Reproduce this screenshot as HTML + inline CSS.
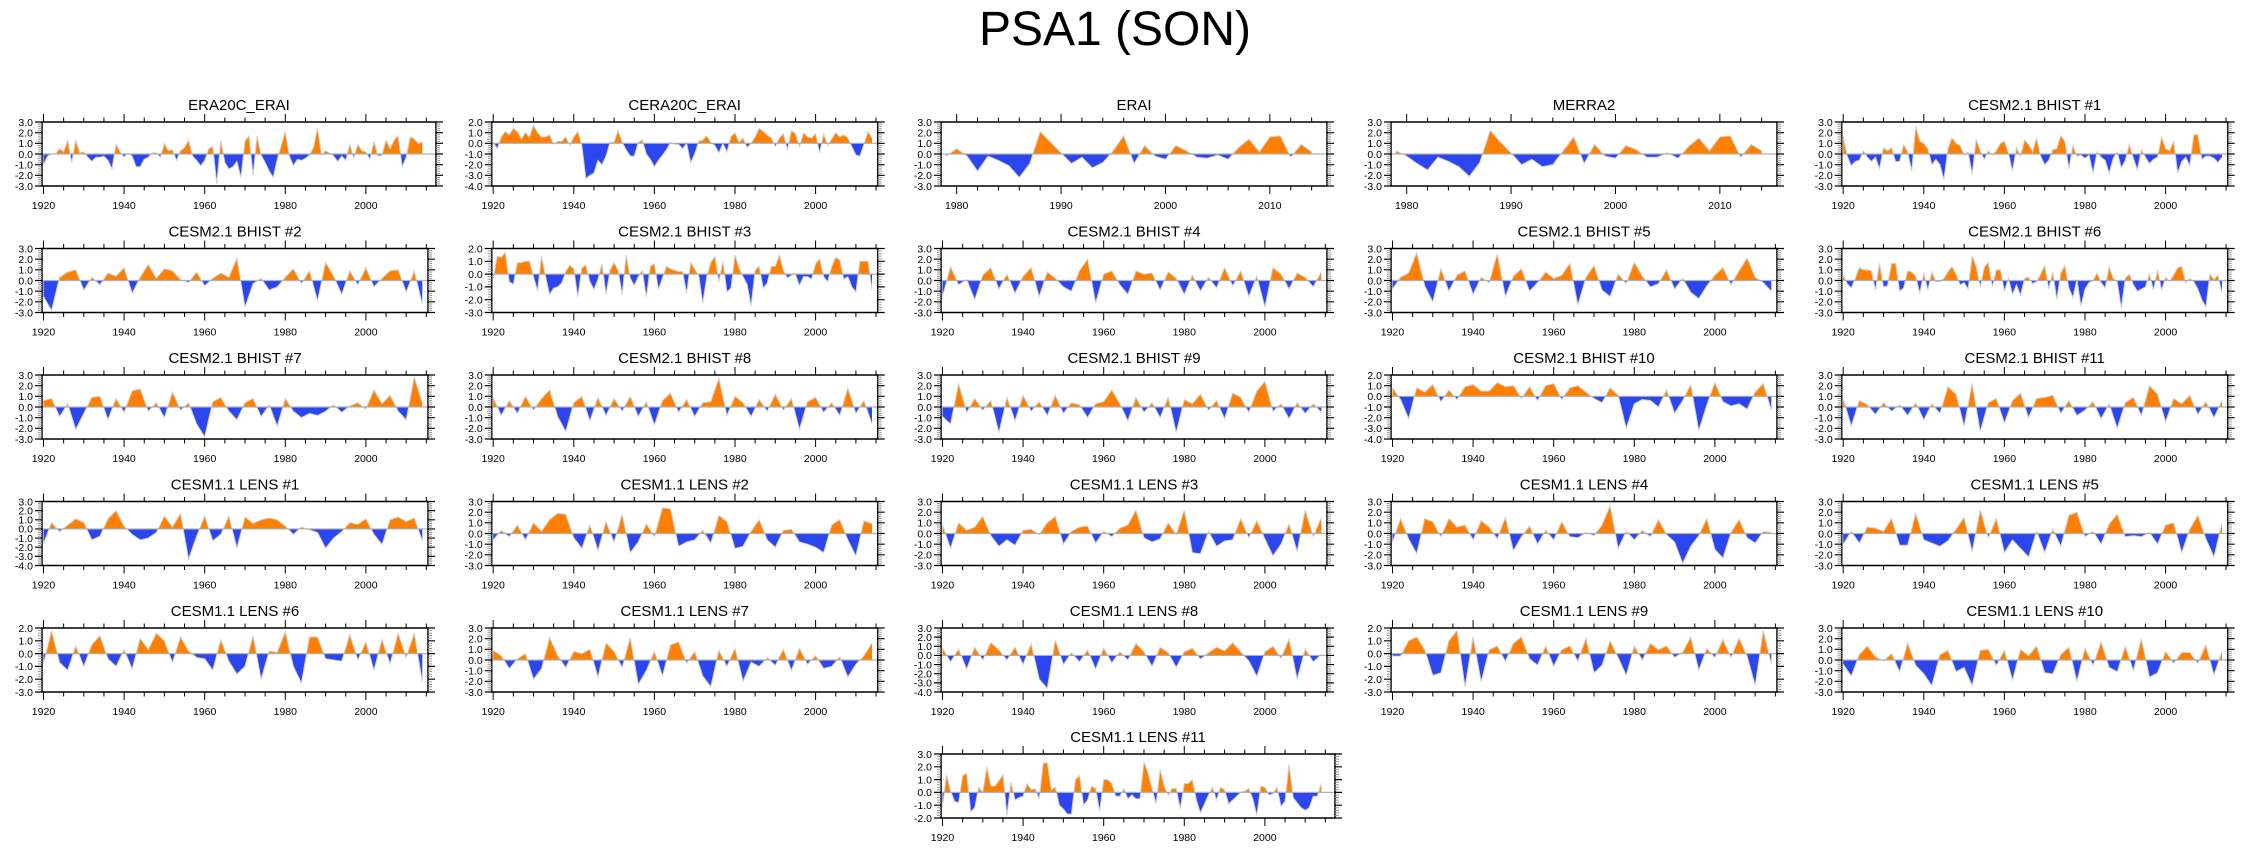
<!DOCTYPE html>
<html><head><meta charset="utf-8"><title>PSA1 (SON)</title>
<style>
html,body{margin:0;padding:0;background:#fff;}
svg{display:block;font-family:"Liberation Sans",Arial,sans-serif;}
</style></head>
<body>
<svg id="chart" width="2245" height="849" viewBox="0 0 2245 849" xmlns="http://www.w3.org/2000/svg">
<text x="1115" y="45" font-size="48" text-anchor="middle" fill="#000">PSA1 (SON)</text>
</svg>
<script>
// ---- data (PSA1 index, SON) ----
const era20c = [-1.0,-0.2,0,0,0.5,0.2,1.3,-0.8,1.3,0.1,0.2,-0.3,-0.7,-0.3,-0.3,-0.2,-0.6,-1.4,0.9,0.2,-0.3,0.1,-0.2,-1.2,-1.2,-0.5,-0.3,0.1,0.1,-0.3,1.0,0.3,0.4,-0.6,0.3,0.6,1.3,-0.2,-0.6,-1.1,-0.6,0.5,0.7,-2.8,1.3,-0.8,-1.4,-1.2,-0.7,-2.2,1.2,1.7,-2.0,1.7,-0.1,-0.8,-1.6,-2.2,-0.5,0.8,2.1,-0.2,-1.1,-0.5,-0.6,-0.4,-0.1,0.6,2.4,-0.1,0.3,0.1,-0.2,-0.7,-0.2,-0.6,0.9,-0.4,0.9,0.3,0.2,-0.5,1.2,-0.2,-0.1,1.3,0.5,1.3,1.7,-1.2,-0.3,1.6,1.4,1.0,1.1];
const cera20c = [0.1,-0.5,0.6,1.1,0.8,1.4,1.1,0.4,1.0,0.6,1.7,1.0,0.6,0.6,0.8,-0.1,0.2,0.2,0.6,-0.2,0.6,1.1,-0.2,-3.3,-3.0,-2.8,-1.6,-2.0,-1.2,0.1,0.1,1.2,0.1,-0.6,-1.2,-1.2,0.1,0.3,-1.0,-1.5,-2.2,-1.6,-1.1,-0.6,0.1,-0.1,-0.1,-0.5,0.0,-1.8,-1.0,0.2,0.3,0.7,0.1,-0.2,-0.9,0.0,-0.8,0.6,1.0,0.1,0.5,-0.4,0.0,0.6,1.4,1.1,0.8,0.5,-0.3,0.5,0.9,-0.6,1.2,0.9,-0.3,1.0,0.6,0.5,0.9,-0.9,0.9,-0.2,0.4,1.0,0.6,0.8,0.5,-0.3,-1.1,-1.2,-0.1,1.1,0.5];
const erai = [-0.2,0.5,-0.2,-1.6,-0.2,-0.6,-1.1,-2.2,-0.9,2.1,1.1,0.1,-0.9,-0.3,-1.3,-0.8,0.3,1.7,-0.9,0.8,-0.2,-0.5,0.8,0.3,-0.3,-0.4,-0.1,-0.5,0.6,1.4,0.2,1.6,1.7,-0.3,0.9,0.2];
const merra2 = [0.3,-0.2,-0.9,-1.5,-0.3,-0.7,-1.2,-2.1,-0.8,2.2,1.1,0.1,-1.0,-0.5,-1.2,-1.0,0.3,1.6,-0.9,0.9,-0.2,-0.4,0.8,0.4,-0.3,-0.3,0.1,-0.4,0.7,1.5,0.3,1.6,1.7,-0.3,0.9,0.3];
const bhist1 = [1.7,-0.2,-1.1,-0.7,-0.6,0.3,-0.3,-0.7,-0.3,-1.4,0.6,0.3,0.6,-0.7,-0.7,0.9,0.2,-1.6,2.6,1.2,1.0,0.5,-1.0,-0.5,-1.0,-2.4,0.5,1.5,1.0,0.8,-0.1,0.2,-1.9,1.4,0.3,-0.5,0.3,-0.1,0.3,1.0,1.2,0.1,-1.6,0.6,-0.2,1.3,0.9,0.2,1.5,-0.2,-1.0,-0.6,0.4,0.5,1.7,1.2,-1.4,0.8,-0.2,-0.1,-0.4,-0.1,-1.8,0.2,-0.3,-0.6,-1.8,-0.4,0.2,-1.3,-0.6,0.9,-0.4,-1.5,0.4,-0.3,-0.9,-0.5,-0.3,1.6,0.5,0.3,1.2,-1.8,-0.7,-0.3,-1.1,1.8,1.8,-0.5,-0.2,-0.2,-0.4,-0.8,-0.3];
const bhist2 = [-1.5,-2.8,0.3,0.8,1.0,-0.9,0.3,-0.4,0.7,0.4,1.2,-1.2,0.3,1.5,0.2,1.1,0.9,0.1,-0.2,0.8,-0.5,0.2,0.7,0.3,2.1,-2.5,-0.3,0.2,-0.9,-0.6,0.3,1.1,-0.3,0.9,-1.9,1.7,0.4,-1.3,0.9,-0.4,1.2,-0.6,0.2,0.9,1.0,-1.1,0.9,-2.2];
const bhist3 = [-0.4,1.4,1.3,1.7,-0.6,-0.8,0.9,0.9,1.0,1.0,-0.2,-1.3,1.4,-0.2,-1.6,-1.1,-1.0,-0.7,0.2,0.7,0.4,-1.8,0.5,0.7,-0.6,-1.2,-0.4,0.8,-1.6,0.3,0.9,0.3,-1.6,1.5,-0.3,-0.9,-0.2,0.3,-1.8,0.6,0.8,-1.2,-0.3,0.6,0.4,0.3,0.2,0.2,-1.5,0.9,0.4,-0.1,-2.3,-0.2,0.9,1.4,-0.6,1.0,-1.4,-1.1,1.5,0.5,-0.2,-0.8,-2.5,0.3,0.6,-1.1,-0.7,0.6,0.6,1.5,0.3,-0.3,-0.1,0.0,-0.9,-0.2,-0.2,-0.4,0.8,1.2,-0.2,-0.6,0.6,1.3,1.1,-0.4,-0.2,-1.0,-1.4,1.0,1.0,1.0,-1.2];
const bhist4 = [-1.5,1.3,-0.4,0.1,-1.8,0.5,1.2,-0.8,0.6,-1.2,0.4,1.2,-1.5,0.8,0.2,-0.6,-1.0,0.9,2.0,-2.1,0.6,0.9,-0.4,-1.3,0.9,0.6,0.7,-0.9,0.8,0.2,-1.3,0.5,-1.0,0.3,-0.7,1.2,-0.5,0.9,-1.5,0.4,-2.5,1.2,0.6,-0.8,0.7,0.3,-0.6,0.8];
const bhist5 = [-0.8,0.3,0.7,2.6,-0.5,-2.0,1.1,-1.0,0.5,0.9,-1.3,0.3,-0.2,2.5,-1.5,0.4,1.1,-1.0,-0.2,0.8,0.2,0.5,1.6,-2.3,0.3,1.4,-0.9,-1.5,0.6,-0.3,1.7,0.4,-0.6,-0.3,1.0,-0.8,0.2,-1.1,-1.7,-0.5,0.5,1.2,-0.4,0.9,2.1,0.3,-0.2,-1.0];
const bhist6 = [0.5,-0.3,-0.7,0.2,1.2,1.0,1.0,0.9,-0.9,1.6,-0.6,-0.5,1.6,1.6,-1.0,-0.7,0.9,0.8,0.4,-1.2,0.7,-0.9,0.8,-0.1,-0.1,0.2,0.8,1.3,0.6,-0.4,-0.2,-0.8,2.3,1.3,-0.6,1.2,1.7,-0.6,1.0,1.0,-1.0,0.2,-1.3,-0.4,-1.4,0.2,0.3,-0.3,-0.1,0.6,1.4,-0.8,0.8,-1.8,0.7,1.4,-0.7,-1.6,0.1,-2.4,-0.8,-0.2,0.0,0.7,-0.2,-0.7,1.3,0.2,-0.1,-2.6,0.2,0.6,-0.4,-1.0,-0.8,-0.6,0.6,-0.9,1.0,-0.9,0.3,-0.1,0.5,1.2,1.3,-0.2,0.2,-0.1,-0.8,-1.8,-2.5,0.6,0.1,0.5,-1.2];
const bhist7 = [0.6,0.8,-0.9,0.3,-2.1,-0.6,0.9,1.0,-1.2,0.8,-0.5,1.5,1.7,-0.4,0.4,-1.0,1.4,-0.3,0.4,-1.6,-2.8,0.5,0.9,-0.4,-1.2,0.4,0.8,-0.9,0.2,-1.8,0.8,-0.4,-1.0,-0.6,-0.8,-0.4,0.2,-0.5,0.1,0.4,-0.2,1.6,0.3,1.1,-0.4,-1.2,2.8,0.4];
const bhist8 = [0.9,-0.8,0.6,-0.6,1.0,-0.3,0.8,1.6,-0.9,-2.3,0.4,1.0,-1.3,0.9,-0.8,0.8,-0.4,1.0,-0.9,0.5,-1.7,0.6,1.3,-0.5,0.7,-0.9,0.4,0.5,2.7,-0.8,1.0,0.4,-0.9,0.7,-0.4,1.2,-0.3,0.8,-2.1,0.5,0.9,-0.5,0.4,-0.8,1.8,-0.6,0.6,-1.6];
const bhist9 = [-0.9,-1.6,2.2,-0.5,0.8,-0.3,0.6,-2.4,0.9,-1.3,1.1,-0.4,0.5,-0.8,1.1,-0.6,0.4,0.2,-1.0,0.3,0.5,1.6,0.3,-1.3,0.9,-0.5,0.4,-1.0,0.9,-2.4,0.7,0.3,1.2,-0.3,0.6,-1.1,1.3,0.9,-0.5,1.5,2.4,-0.4,0.3,-1.1,0.4,-0.6,0.3,-0.5];
const bhist10 = [0.8,-0.3,-2.1,0.8,0.4,1.1,-0.5,0.6,-0.3,0.9,1.1,0.5,0.5,1.3,0.9,1.0,-0.2,0.9,-0.4,1.0,1.2,-0.3,0.8,1.0,0.4,-0.2,-0.6,0.8,0.1,-3.0,-0.7,-0.3,-0.4,-1.0,0.6,-1.6,-0.4,1.1,-3.2,-0.8,1.3,-0.5,-0.9,-0.7,-1.2,0.4,1.2,-1.3];
const bhist11 = [0.8,-1.8,0.6,0.2,-0.7,0.4,-0.4,0.2,-0.8,0.4,-1.2,0.3,-0.6,1.9,1.2,-1.8,2.2,-2.3,0.4,0.8,-1.5,0.6,1.3,-1.0,0.8,0.9,1.1,-0.6,0.6,-0.8,-0.3,0.5,-1.1,0.3,-2.0,0.4,0.9,-0.8,2.0,1.2,-1.4,0.8,0.3,1.1,-0.7,0.5,-1.0,0.6];
const lens1 = [-1.6,0.7,-0.3,0.4,1.1,0.7,-1.2,-0.8,1.1,2.0,0.3,-0.6,-1.2,-1.0,-0.4,1.4,0.2,1.7,-3.3,-0.8,1.4,-1.3,-0.6,1.4,-2.1,1.3,0.6,1.0,1.2,1.0,0.3,-0.6,0.2,-0.1,-0.4,-2.1,-1.0,-0.3,0.7,0.5,1.1,-0.6,-1.7,1.0,1.3,0.8,1.2,-1.3];
const lens2 = [-0.6,0.3,-0.3,0.8,-0.6,1.0,0.2,1.3,1.9,1.8,-0.4,-1.4,0.8,-1.6,1.1,-0.8,1.8,-1.8,-0.8,0.9,-0.3,2.4,2.3,-1.2,-0.8,-0.6,0.3,-0.9,1.7,1.1,-1.4,-1.2,0.2,1.3,-0.6,-1.3,0.3,0.4,-0.8,-1.0,-1.3,-1.8,0.8,1.3,-0.6,-2.1,1.2,0.9];
const lens3 = [0.8,-1.4,1.0,0.3,0.6,1.6,-0.2,-1.2,-0.6,-1.1,0.3,0.4,-0.1,1.0,1.6,-1.0,0.2,0.6,0.7,-0.9,0.2,-0.3,0.5,0.8,2.2,-0.4,-0.8,-0.5,1.0,-0.1,2.2,-1.8,-1.9,0.2,-1.2,-0.7,-0.6,1.4,-0.4,1.2,-0.5,-2.1,-1.0,0.9,-1.7,2.2,-0.3,1.5];
const lens4 = [-0.8,1.4,-0.5,-1.9,1.4,1.1,-0.3,1.4,0.6,0.8,-0.6,1.2,0.6,-0.5,1.5,-1.6,-0.3,0.7,-1.0,0.3,-0.6,1.1,-0.3,-0.4,0.1,-0.2,0.8,2.6,-1.4,0.2,-0.6,0.3,-0.3,1.3,-0.1,-0.8,-2.8,-1.2,-0.2,1.4,-1.5,-2.3,0.1,1.3,-0.4,-0.9,0.2,0.1];
const lens5 = [-1.0,0.2,-0.9,0.6,0.5,0.2,1.4,-1.1,-1.1,1.9,-0.6,-0.9,-1.2,-0.7,0.4,1.5,-1.7,2.2,-0.4,1.4,-1.8,-0.6,-1.4,-2.2,0.2,-1.8,0.4,-1.2,1.7,2.0,-0.3,0.2,-1.0,0.9,1.8,-0.3,-0.2,-0.3,0.1,-1.0,0.8,1.0,-1.8,0.4,1.7,-0.5,-2.2,1.0];
const lens6 = [-0.8,1.8,-0.7,-1.3,0.6,-1.0,0.7,1.4,-0.4,-1.0,0.3,-1.2,1.2,0.3,1.6,1.0,-0.7,1.3,0.2,-0.3,-0.4,-1.3,1.1,-0.6,-1.6,-1.0,1.4,-2.0,0.2,0.1,1.7,-1.0,-2.3,1.3,1.3,-0.4,-0.5,-0.6,1.5,-0.5,0.9,-1.3,1.1,-0.8,1.6,-0.3,1.6,-2.2];
const lens7 = [0.9,0.4,-0.8,0.1,0.6,-1.8,-0.8,2.1,0.4,-0.7,0.8,0.6,1.0,-1.6,1.6,0.8,-0.7,2.1,-2.3,-1.0,0.8,-1.5,1.4,1.7,-0.3,0.8,-1.5,-2.5,0.9,-0.6,1.1,-2.0,-0.2,-0.6,0.2,-0.5,1.0,-1.0,1.1,-0.4,0.4,-0.8,-0.6,0.3,-1.6,-0.4,0.4,1.6];
const lens8 = [0.8,-0.7,0.7,-1.5,0.9,-0.5,1.4,0.6,-0.5,0.9,-1.0,1.3,-2.6,-3.6,1.7,-1.0,0.3,-0.7,0.6,-1.5,0.8,-0.8,0.4,-0.5,1.3,0.4,-1.2,0.9,0.3,-1.3,0.4,0.8,-0.4,0.3,0.9,0.5,1.4,0.4,-0.6,-2.3,0.4,1.0,-0.3,1.8,-2.6,0.7,-0.7,0.1];
const lens9 = [-0.2,-0.2,1.0,1.3,0.3,-1.7,-1.5,1.0,1.8,-2.6,1.3,-2.2,0.3,0.6,-0.6,0.8,1.3,-0.4,-0.9,0.6,-1.0,0.3,0.6,-0.6,1.2,-1.5,-0.9,1.0,-0.3,-1.7,0.6,-0.5,0.8,0.3,0.6,-0.3,0.1,1.3,-1.3,0.4,-0.3,1.1,-0.3,1.2,-0.2,-2.5,1.8,-0.8];
const lens10 = [-0.4,-1.5,0.5,1.3,0.3,-0.1,0.6,-1.1,1.6,-0.5,-1.3,-2.4,0.5,0.9,-1.1,-0.7,-2.4,0.9,1.0,-0.5,0.9,-1.9,1.0,0.4,1.3,-1.2,-1.3,0.5,1.2,-2.0,1.1,-0.5,1.7,-0.7,-1.1,1.3,-1.0,2.0,-1.6,-1.2,0.8,-0.3,0.7,0.7,-0.3,1.4,-1.4,0.8];
const lens11 = [-1.2,1.4,0.1,-0.7,-0.8,1.3,1.5,-1.5,-1.2,0.4,0.0,2.0,0.5,0.5,0.9,1.4,-1.8,0.8,-0.6,-0.4,-0.3,0.7,0.2,0.3,-0.5,2.3,2.3,0.2,0.4,-1.0,-1.3,-1.7,-1.7,1.0,1.3,-1.0,-0.6,0.5,0.3,-1.5,1.0,1.0,0.7,-0.3,-0.3,0.3,-0.5,-0.2,-0.5,-0.5,2.4,1.5,0.3,-0.9,1.8,0.5,-0.2,0.3,0.3,-1.3,0.7,0.7,1.0,-0.6,-1.6,-0.9,-0.2,0.4,-0.6,0.4,0.2,-0.9,-0.6,-0.3,0.0,0.1,0.3,-0.5,-1.8,0.5,0.4,-0.2,-0.1,0.4,-1.1,-0.7,2.2,-0.4,-0.8,-1.2,-1.4,-1.2,-0.3,-0.3,0.7];

// panel config: title, series, first year, year step, y range
const panelTitles = ["ERA20C_ERAI","CERA20C_ERAI","ERAI","MERRA2","CESM2.1 BHIST #1",
 "CESM2.1 BHIST #2","CESM2.1 BHIST #3","CESM2.1 BHIST #4","CESM2.1 BHIST #5","CESM2.1 BHIST #6",
 "CESM2.1 BHIST #7","CESM2.1 BHIST #8","CESM2.1 BHIST #9","CESM2.1 BHIST #10","CESM2.1 BHIST #11",
 "CESM1.1 LENS #1","CESM1.1 LENS #2","CESM1.1 LENS #3","CESM1.1 LENS #4","CESM1.1 LENS #5",
 "CESM1.1 LENS #6","CESM1.1 LENS #7","CESM1.1 LENS #8","CESM1.1 LENS #9","CESM1.1 LENS #10",
 "CESM1.1 LENS #11"];
const panelSeries = [era20c,cera20c,erai,merra2,bhist1,bhist2,bhist3,bhist4,bhist5,bhist6,bhist7,bhist8,bhist9,bhist10,bhist11,lens1,lens2,lens3,lens4,lens5,lens6,lens7,lens8,lens9,lens10,lens11];
const panelStartYear = [1920,1920,1979,1979,1920,1920,1920,1920,1920,1920,1920,1920,1920,1920,1920,1920,1920,1920,1920,1920,1920,1920,1920,1920,1920,1920];
const panelYearStep = [1,1,1,1,1,2,1,2,2,1,2,2,2,2,2,2,2,2,2,2,2,2,2,2,2,1];
const panelYMin = [-3,-4,-3,-3,-3,-3,-3,-3,-3,-3,-3,-3,-3,-4,-3,-4,-3,-3,-3,-3,-3,-3,-4,-3,-3,-2];
const panelYMax = [3,2,3,3,3,3,2,3,3,3,3,3,3,2,3,3,3,3,3,3,2,3,3,2,3,3];

// ---- layout ----
const NS = "http://www.w3.org/2000/svg";
const svg = document.getElementById("chart");
const colLeft = [42, 491.7, 941, 1391, 1841.7];
const rowTop = [122, 248.5, 375, 501.5, 628, 754];
const BOXH = 64;
const ORANGE = "#ff8000", BLUE = "#2b46ef";

function mk(tag, attrs, parent){
  const e = document.createElementNS(NS, tag);
  for (const k in attrs) e.setAttribute(k, attrs[k]);
  (parent || svg).appendChild(e);
  return e;
}

panelTitles.forEach((title, p) => {
  const col = p === 25 ? 2 : p % 5;
  const row = Math.floor(p / 5);
  const left = colLeft[col], top = rowTop[row];
  const isRe = panelStartYear[p] === 1979;
  const width = (p === 0 || p === 25) ? 394 : 386;
  const pxPerYr = isRe ? 10.44 : 4.03;
  const xmin = isRe ? 1978.5 : 1919.63;
  const ymin = panelYMin[p], ymax = panelYMax[p];
  const xs = t => left + (t - xmin) * pxPerYr;
  const ys = v => top + (ymax - v) / (ymax - ymin) * BOXH;
  const bottom = top + BOXH, right = left + width;

  const g = mk("g", {});
  
  

  const t = mk("text", {x: left + width / 2, y: top - 12, "font-size": 15, "text-anchor": "middle", fill: "#000"}, g);
  t.textContent = title;
  
  

  // clip paths
  const y0 = ys(0);
  const defs = mk("defs", {}, g);
  const cpA = mk("clipPath", {id: "ca" + p}, defs);
  mk("rect", {x: left, y: top, width: width, height: y0 - top}, cpA);
  const cpB = mk("clipPath", {id: "cb" + p}, defs);
  mk("rect", {x: left, y: y0, width: width, height: bottom - y0}, cpB);

  const vals = panelSeries[p];
  const pts = vals.map((v, i) => [xs(panelStartYear[p] + i * panelYearStep[p]), ys(v)]);
  const line = pts.map(q => q[0].toFixed(2) + "," + q[1].toFixed(2)).join(" L");
  const area = "M" + pts[0][0].toFixed(2) + "," + y0 + " L" + line + " L" + pts[pts.length - 1][0].toFixed(2) + "," + y0 + " Z";
  const pa = mk("path", {d: area, fill: ORANGE, "clip-path": "url(#ca" + p + ")"}, g);
  
  
  const pb = mk("path", {d: area, fill: BLUE, "clip-path": "url(#cb" + p + ")"}, g);
  
  
  const pl = mk("path", {d: "M" + line, fill: "none", stroke: "#d0d0d0", "stroke-width": 1}, g);
  
  
  const zl = mk("line", {x1: left, x2: right, y1: y0, y2: y0, stroke: "#b0b0b0", "stroke-width": 1.2}, g);
  
  

  // box
  const bx = mk("rect", {x: left, y: top, width: width, height: BOXH, fill: "none", stroke: "#000", "stroke-width": 1.5}, g);
  
  

  // x ticks
  const xmax = xmin + width / pxPerYr;
  const minorStep = isRe ? 2 : 5, majorStep = isRe ? 10 : 20;
  const startT = isRe ? 1980 : 1920;
  let tk = "";
  for (let yr = Math.ceil(xmin / minorStep) * minorStep; yr <= xmax; yr += minorStep) {
    const X = xs(yr).toFixed(2);
    const major = (yr - startT) % majorStep === 0 && yr >= startT;
    const L = major ? 8 : 4.5;
    tk += "M" + X + "," + bottom + "v" + L + "M" + X + "," + top + "v-" + L;
    if (major) {
      const lb = mk("text", {x: X, y: bottom + 23, "font-size": 10.5, "text-anchor": "middle", fill: "#000"}, g);
      lb.textContent = yr;
      
      
    }
  }
  const xt = mk("path", {d: tk, stroke: "#000", "stroke-width": 1, fill: "none"}, g);
  
  

  // y ticks
  let mj = "", mn = "";
  for (let k = Math.round(ymin * 5); k <= Math.round(ymax * 5); k++) {
    const v = k / 5, Y = ys(v).toFixed(2);
    if (k % 5 === 0) {
      mj += "M" + left + "," + Y + "h-7M" + right + "," + Y + "h7";
      const lb = mk("text", {x: left - 9, y: +Y + 3.8, "font-size": 10.5, "text-anchor": "end", fill: "#000"}, g);
      lb.textContent = v.toFixed(1);
      
      
    } else {
      mn += "M" + left + "," + Y + "h-4M" + right + "," + Y + "h4";
    }
  }
  const yt = mk("path", {d: mj, stroke: "#000", "stroke-width": 1.2, fill: "none"}, g);
  
  
  const ym = mk("path", {d: mn, stroke: "#999", "stroke-width": 1, fill: "none"}, g);
  
  
});
</script>
</body></html>
